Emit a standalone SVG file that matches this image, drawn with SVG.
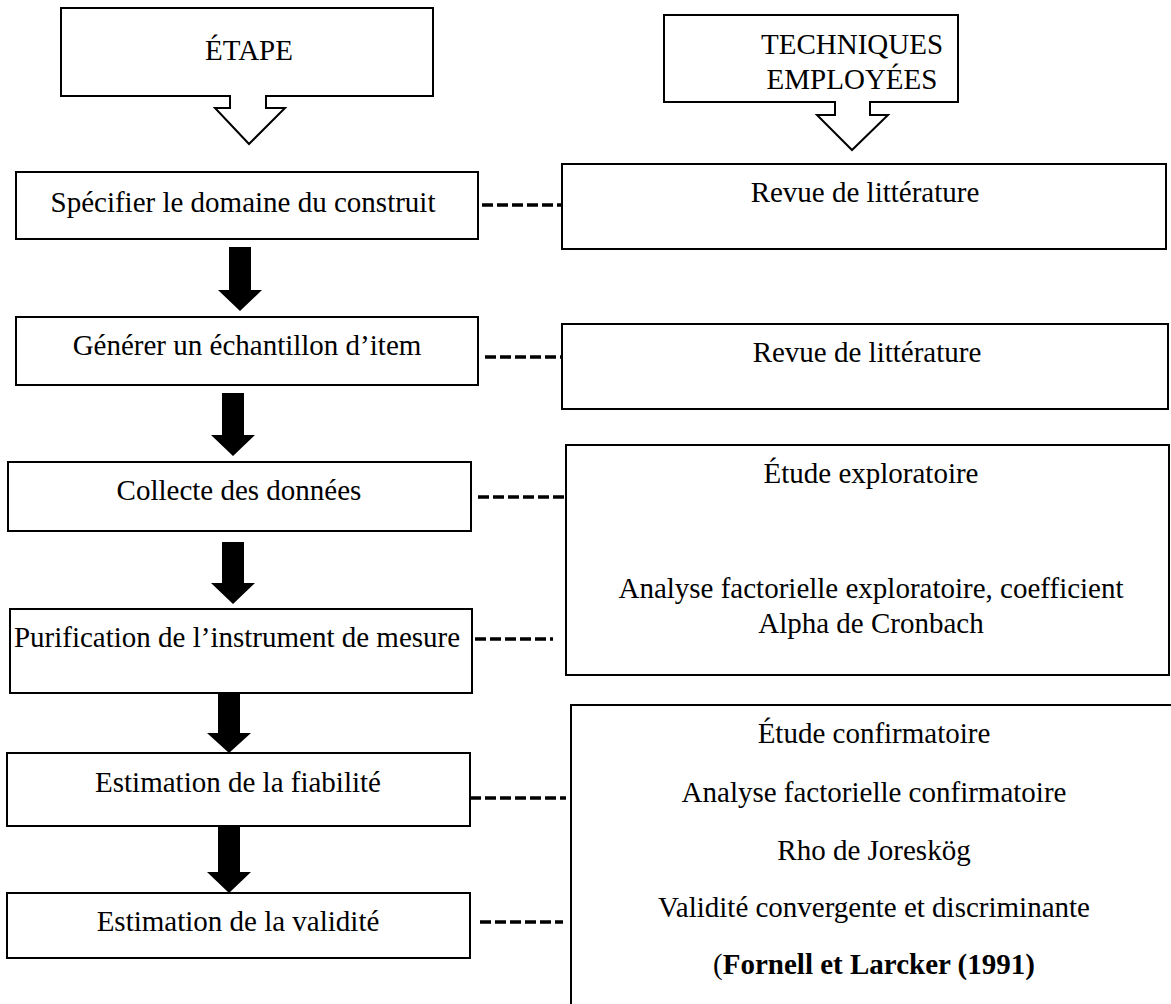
<svg xmlns="http://www.w3.org/2000/svg" width="1171" height="1004" viewBox="0 0 1171 1004">
<style>
.box{fill:#fff;stroke:#000;stroke-width:2}
.t{font-family:"Liberation Serif","Times New Roman",serif;font-size:29px;fill:#000;text-anchor:middle}
.b{font-weight:bold}
.dash{stroke:#000;stroke-width:3.5;stroke-dasharray:11 4;fill:none}
.arr{fill:#000}
</style>
<rect width="1171" height="1004" fill="#fff"/>
<g id="header-etape">
<path class="box" d="M61,8 H433 V96 H266 V108 H285 L249,144 L215,108 H230 V96 H61 Z"/>
<text class="t" x="249" y="60">ÉTAPE</text>
</g>
<g id="header-techniques">
<path class="box" d="M664,15 H958 V102 H870 V115 H888 L852,150 L817,115 H835 V102 H664 Z"/>
<text class="t" x="852" y="54">TECHNIQUES</text>
<text class="t" x="852" y="89">EMPLOYÉES</text>
</g>
<g id="step1">
<rect class="box" x="16" y="172" width="462" height="67"/>
<text class="t" x="243" y="212">Spécifier le domaine du construit</text>
</g>
<g id="step2">
<rect class="box" x="16" y="317" width="462" height="68"/>
<text class="t" x="247" y="355">Générer un échantillon d’item</text>
</g>
<g id="step3">
<rect class="box" x="8" y="462" width="463" height="69"/>
<text class="t" x="239" y="500">Collecte des données</text>
</g>
<g id="step4">
<rect class="box" x="10" y="609" width="462" height="84"/>
<text class="t" x="237" y="647">Purification de l’instrument de mesure</text>
</g>
<g id="step5">
<rect class="box" x="7" y="753" width="463" height="73"/>
<text class="t" x="238" y="792">Estimation de la fiabilité</text>
</g>
<g id="step6">
<rect class="box" x="7" y="893" width="463" height="65"/>
<text class="t" x="238" y="931">Estimation de la validité</text>
</g>
<g id="tech1">
<rect class="box" x="562" y="164" width="604" height="85"/>
<text class="t" x="865" y="202">Revue de littérature</text>
</g>
<g id="tech2">
<rect class="box" x="562" y="324" width="606" height="85"/>
<text class="t" x="867" y="362">Revue de littérature</text>
</g>
<g id="tech3">
<rect class="box" x="566" y="445" width="603" height="230"/>
<text class="t" x="871" y="483">Étude exploratoire</text>
<text class="t" x="871" y="598">Analyse factorielle exploratoire, coefficient</text>
<text class="t" x="871" y="633">Alpha de Cronbach</text>
</g>
<g id="tech4">
<rect class="box" x="571" y="705" width="610" height="310"/>
<text class="t" x="874" y="743">Étude confirmatoire</text>
<text class="t" x="874" y="802">Analyse factorielle confirmatoire</text>
<text class="t" x="874" y="860">Rho de Joreskög</text>
<text class="t" x="874" y="917">Validité convergente et discriminante</text>
<text class="t" x="874" y="974">(<tspan class="b">Fornell et Larcker (1991)</tspan></text>
</g>
<g id="connectors">
<polygon class="arr" points="229,247 251,247 251,290 262,290 240,311 218,290 229,290"/>
<polygon class="arr" points="222,393 244,393 244,435 255,435 233,456 211,435 222,435"/>
<polygon class="arr" points="222,542 244,542 244,583 255,583 233,604 211,583 222,583"/>
<polygon class="arr" points="218,693 240,693 240,733 251,733 229,753 207,733 218,733"/>
<polygon class="arr" points="218,826 240,826 240,872 251,872 229,893 207,872 218,872"/>
<line class="dash" x1="482" y1="205" x2="562" y2="205"/>
<line class="dash" x1="485" y1="357" x2="562" y2="357"/>
<line class="dash" x1="478" y1="497" x2="564" y2="497"/>
<line class="dash" x1="475" y1="639" x2="553" y2="639"/>
<line class="dash" x1="470" y1="798" x2="566" y2="798"/>
<line class="dash" x1="480" y1="922" x2="563" y2="922"/>
</g>
</svg>
